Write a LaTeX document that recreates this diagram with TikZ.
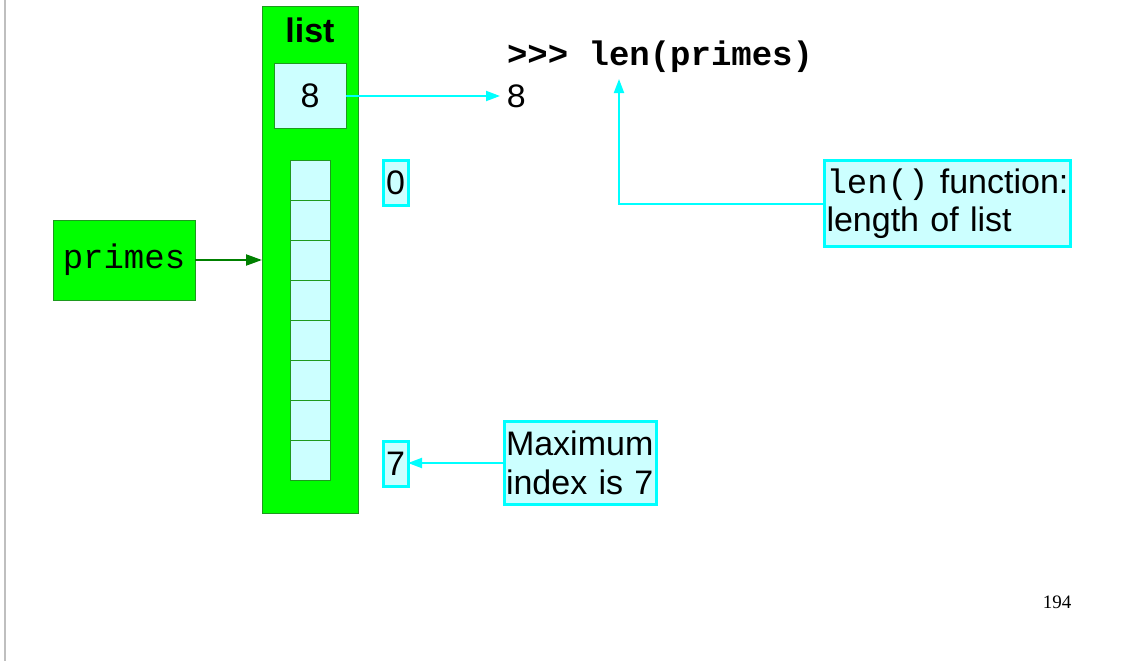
\documentclass[tikz,border=0pt]{standalone}
\usepackage{fontspec}
\setmainfont{Liberation Sans}
\setmonofont{Liberation Mono}
\newfontfamily\pagefont{Liberation Serif}
\usetikzlibrary{arrows.meta}
\definecolor{lgreen}{HTML}{00FF00}
\definecolor{dgreen}{HTML}{1E9A1E}
\definecolor{agreen}{HTML}{008000}
\definecolor{lcyan}{HTML}{CCFFFF}
\definecolor{cyanline}{HTML}{00FFFF}
\newcommand{\bigsize}{\fontsize{34}{38.5}\selectfont}
\tikzset{
  txt/.style={inner sep=0pt, outer sep=0pt, font=\bigsize},
  greenbox/.style={txt, draw=dgreen, fill=lgreen, line width=1pt},
  cell/.style={draw=dgreen, fill=lcyan, line width=1pt, minimum width=40pt, minimum height=40pt, inner sep=0pt, outer sep=0pt},
  lenslot/.style={txt, draw=dgreen, fill=lcyan, line width=1pt},
  callout/.style={txt, draw=cyanline, fill=lcyan, line width=3pt, align=left},
  cyanarrow/.style={draw=cyanline, line width=2pt, -{Triangle[length=14pt,width=10pt]}},
  greenarrow/.style={draw=agreen, line width=2pt, -{Triangle[length=16pt,width=11pt]}},
}
\begin{document}
\begin{tikzpicture}[x=1pt,y=-1pt]
\useasboundingbox (0,0) rectangle (1122,661);
\draw[black!25, line width=2pt] (5,0) -- (5,661);

% list object
\node[greenbox, minimum width=96pt, minimum height=506pt] (list) at (310,260) {};
\node[txt, font=\bfseries\bigsize, anchor=base] (listlabel) at (310,43) {list};
\node[lenslot, minimum width=72pt, minimum height=64pt] (len) at (310,96) {8};
\foreach \i in {0,...,7} {
  \node[cell] (c\i) at (310,{180+40*\i}) {};
}

% primes variable
\node[greenbox, minimum width=142pt, minimum height=80pt, font=\ttfamily\bigsize] (primes) at (124,260) {primes};
\draw[greenarrow] (primes.east) -- (primes.east -| list.west);

% python prompt
\node[txt, anchor=base west, font=\ttfamily\bfseries\bigsize] (prompt) at (507,66) {>{}>{}> len(primes)};
\node[txt, anchor=base west, font=\ttfamily\bigsize] (out) at (506,107) {8};
\draw[cyanarrow, shorten >=6pt] (len.east) -- (len.east -| out.west);

% len() callout
\node[callout, text width=242pt, inner xsep=2pt, minimum height=86pt] (lenbox) at (947.5,203.5) {\texttt{len()} function:\\length of list};
\coordinate (lentip) at (619,79);
\draw[cyanarrow] (lenbox.west) -| (lentip);

% index boxes
\node[callout, minimum width=25pt, minimum height=45pt] (i0) at (395.5,183) {0};
\node[callout, minimum width=25pt, minimum height=45pt] (i7) at (395.5,464) {7};

% maximum callout
\node[callout, text width=148pt, inner xsep=2pt, minimum height=83pt] (maxbox) at (580,463) {Maximum\\index is 7};
\draw[cyanarrow] (maxbox.west) -- (maxbox.west -| i7.east);

% page number
\node[txt, anchor=base, font=\pagefont\fontsize{19}{22}\selectfont] (pg) at (1057,608) {194};
\end{tikzpicture}
\end{document}
